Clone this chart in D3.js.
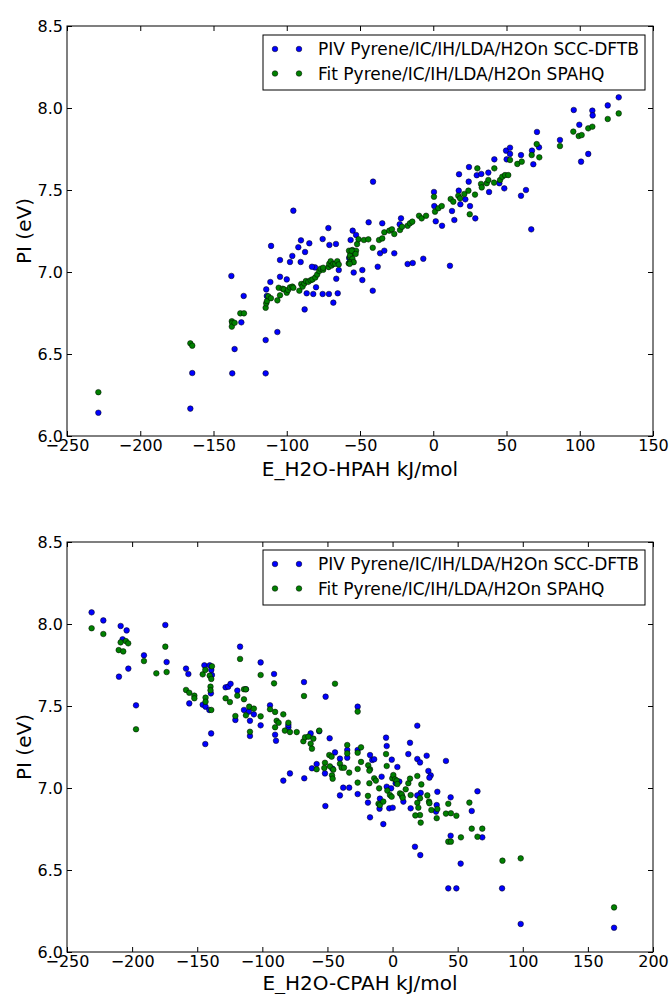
<!DOCTYPE html>
<html>
<head>
<meta charset="utf-8">
<script src="https://cdn.jsdelivr.net/npm/d3@7"></script>
<style>
  html, body { margin: 0; padding: 0; background: #fff; }
  svg { display: block; }
  text { font-family: "DejaVu Sans", sans-serif; }
</style>
</head>
<body>
<svg id="chart" width="670" height="994"></svg>
<script>
// ---------------- DATA ----------------
const seriesLabels = ["PIV Pyrene/IC/IH/LDA/H2On SCC-DFTB", "Fit Pyrene/IC/IH/LDA/H2On SPAHQ"];
const seriesColors = ["#0000ff", "#008000"];
const yTicks = [6.0, 6.5, 7.0, 7.5, 8.0, 8.5];
const xTicksTop = [-250, -200, -150, -100, -50, 0, 50, 100, 150];
const xTicksBot = [-250, -200, -150, -100, -50, 0, 50, 100, 150, 200];
const xLabelTop = "E_H2O-HPAH kJ/mol";
const xLabelBot = "E_H2O-CPAH kJ/mol";
const yLabel = "PI (eV)";

// Top panel: [E_H2O-HPAH, PI]
const topPIV = [
[-228.6,6.142],[-165.8,6.167],[-164.5,6.384],[-137.2,6.382],[-137.8,6.976],[-135.6,6.53],[-131.0,6.693],[-129.4,6.854],
[-114.4,6.382],[-114.4,6.585],[-106.4,6.634],[-114.0,6.894],[-113.6,6.854],[-111.2,6.939],[-110.7,7.159],[-104.6,7.073],
[-104.6,6.971],[-100.0,6.955],[-97.8,7.061],[-96.2,7.098],[-95.5,7.374],[-92.1,7.151],[-90.3,7.193],[-90.5,7.061],
[-87.5,7.122],[-84.6,7.175],[-86.4,6.87],[-87.8,6.772],[-81.9,6.866],[-80.0,6.907],[-75.5,7.201],[-71.6,7.268],
[-70.9,7.165],[-66.4,7.171],[-75.5,6.866],[-71.2,6.866],[-68.2,6.813],[-65.2,6.870],[-66.2,6.959],[-64.5,7.012],
[-80.7,7.028],[-82.8,7.032],[-56.4,7.195],[-55.0,7.252],[-52.7,7.226],[-54.3,6.997],[-57.4,7.085],[-48.4,7.012],
[-48.4,6.951],[-41.3,6.886],[-41.1,7.551],[-37.9,7.032],[-44.1,7.303],[-34.8,7.297],[-36.3,7.114],[-33.4,7.130],
[-26.6,7.114],[-22.9,7.291],[-22.0,7.327],[-17.5,7.049],[-14.0,7.055],[-6.8,7.081],[0.5,7.488],[0.7,7.402],
[1.7,7.309],[6.0,7.282],[11.4,7.038],[12.8,7.372],[14.4,7.317],[17.6,7.596],[17.4,7.496],[18.5,7.413],
[21.9,7.443],[25.1,7.402],[28.7,7.327],[24.4,7.640],[24.2,7.551],[29.7,7.59],[32.8,7.598],[37.6,7.606],
[38.1,7.488],[41.7,7.687],[45.1,7.541],[48.5,7.510],[49.7,7.740],[52.4,7.758],[52.4,7.720],[50.1,7.687],
[59.9,7.713],[59.9,7.465],[63.3,7.5],[66.9,7.26],[68.3,7.657],[67.4,7.74],[70.8,7.854],[72.2,7.76],
[86.5,7.805],[95.9,7.988],[99.7,7.898],[100.9,7.673],[105.8,7.72],[108.6,7.984],[108.8,7.955],[119.1,8.016],[126.6,8.065]
];
const topFit = [
[-228.6,6.267],[-165.8,6.565],[-164.5,6.551],[-137.5,6.70],[-137.2,6.69],[-137.5,6.667],[-135.6,6.69],[-131.7,6.748],
[-129.2,6.748],[-114.4,6.782],[-114.0,6.809],[-113.5,6.823],[-112.6,6.852],[-110.8,6.84],[-106.4,6.827],[-105.5,6.904],
[-104.6,6.858],[-102.8,6.898],[-101.9,6.894],[-100.0,6.874],[-99.1,6.890],[-97.8,6.906],[-96.2,6.911],[-95.5,6.904],
[-91.4,6.886],[-90.1,6.927],[-89.2,6.911],[-88.0,6.93],[-86.9,6.945],[-85.3,6.94],[-83.7,6.95],[-82.4,6.955],
[-80.5,6.967],[-79.2,6.985],[-77.8,7.006],[-76.9,7.02],[-75.1,7.014],[-75.1,7.026],[-71.4,7.03],[-71.0,7.05],
[-70.0,7.066],[-69.4,7.04],[-68.2,7.05],[-66.9,7.05],[-65.5,7.066],[-64.5,7.046],[-57.7,7.053],[-56.4,7.114],
[-55.2,7.134],[-54.1,7.114],[-52.7,7.13],[-56.9,7.09],[-57.5,7.13],[-56.8,7.10],[-55.7,7.13],[-53.0,7.11],
[-55.2,7.08],[-56.8,7.06],[-54.3,7.06],[-57.0,7.05],[-52.0,7.17],[-51.0,7.20],
[-47.3,7.195],[-44.3,7.199],[-41.3,7.148],[-37.0,7.195],[-34.8,7.205],[-33.4,7.242],[-30.0,7.252],[-28.2,7.26],
[-26.6,7.232],[-22.7,7.256],[-21.3,7.276],[-17.5,7.282],[-15.9,7.297],[-14.3,7.307],[-9.7,7.343],[-7.9,7.327],
[-4.9,7.343],[0.5,7.459],[1.2,7.368],[3.5,7.389],[5.8,7.402],[11.9,7.445],[13.7,7.429],[17.1,7.465],
[18.3,7.449],[21.2,7.476],[24.0,7.496],[24.9,7.352],[28.5,7.472],[30.1,7.632],[32.6,7.537],[33.1,7.516],
[36.5,7.541],[37.6,7.561],[41.7,7.632],[41.5,7.545],[45.6,7.561],[47.1,7.581],[49.0,7.591],[51.2,7.591],
[52.4,7.683],[57.4,7.659],[60.4,7.673],[67.2,7.713],[70.6,7.78],[72.4,7.699],[86.5,7.768],[95.6,7.856],
[99.3,7.829],[101.3,7.835],[105.8,7.876],[108.6,7.886],[119.1,7.933],[126.6,7.967]
];

// Bottom panel: [E_H2O-CPAH, PI]
const botPIV = [
[-231.1,8.071],[-222.1,8.022],[-208.8,7.988],[-204.2,7.961],[-207.3,7.907],[-210.1,7.679],[-202.9,7.728],[-197.0,7.504],
[-190.9,7.809],[-174.5,7.994],[-173.5,7.768],[-158.6,7.728],[-156.8,7.695],[-156.1,7.516],[-145.8,7.508],[-144.5,7.748],
[-143.8,7.268],[-143.6,7.496],[-140.7,7.476],[-140.4,7.748],[-139.2,7.72],[-138.7,7.689],[-139.5,7.577],[-139.3,7.333],
[-128.2,7.614],[-126.2,7.618],[-124.4,7.635],[-120.7,7.415],[-119.2,7.594],[-117.1,7.862],[-114.1,7.476],[-112.6,7.602],
[-110.3,7.466],[-109.5,7.317],[-109.5,7.41],[-106.5,7.449],[-101.3,7.766],[-101.3,7.382],[-94.1,7.504],[-91.0,7.695],
[-90.2,7.325],[-89.5,7.288],[-83.9,7.045],[-80.0,7.37],[-80.0,7.384],[-78.8,7.089],[-68.0,7.646],[-67.8,7.059],
[-62.9,7.333],[-61.9,7.120],[-58.3,7.146],[-56.3,7.346],[-51.4,7.557],[-51.9,7.089],[-51.6,6.890],[-48.3,7.303],
[-44.2,7.217],[-46.2,7.118],[-40.4,7.179],[-40.4,6.955],[-37.9,7.002],[-34.8,7.185],[-34.8,7.232],[-33.3,7.002],
[-26.8,7.496],[-26.8,7.232],[-26.8,6.963],[-17.3,7.201],[-17.3,6.821],[-18.9,6.911],[-15.6,7.171],[-14.1,7.175],
[-8.4,7.069],[-10.0,6.874],[-9.7,6.935],[-7.1,6.78],[-5.0,7.307],[-4.5,7.256],[-4.5,7.008],[-2.5,6.876],
[0.1,6.88],[-0.6,7.173],[-1.1,6.998],[3.7,7.128],[2.4,7.029],[5.2,7.039],[8.3,6.917],[7.5,6.947],
[12.1,7.207],[13.4,7.276],[13.9,6.876],[17.2,6.642],[19.0,7.38],[19.0,7.177],[21.1,7.156],[21.3,6.591],
[21.6,6.97],[19.0,6.955],[26.2,7.197],[27.5,7.104],[29.3,7.077],[28.3,7.063],[34.4,6.977],[33.9,6.896],
[33.4,6.856],[41.0,7.165],[44.6,6.943],[44.6,6.709],[42.8,6.388],[49.0,6.388],[52.3,6.539],[60.8,6.86],
[65.2,6.980],[68.9,6.699],[84.1,6.388],[98.4,6.171],[170.1,6.148]
];
const botFit = [
[-231.1,7.974],[-222.1,7.939],[-210.3,7.841],[-208.8,7.888],[-206.8,7.833],[-204.8,7.896],[-203.0,7.882],[-197.0,7.358],
[-190.9,7.774],[-181.4,7.699],[-174.5,7.862],[-173.5,7.707],[-158.6,7.598],[-156.1,7.581],[-152.2,7.563],[-152.2,7.547],
[-145.8,7.693],[-143.8,7.72],[-143.6,7.551],[-143.6,7.526],[-140.4,7.685],[-139.2,7.665],[-138.7,7.742],[-139.8,7.618],
[-139.8,7.596],[-139.2,7.476],[-128.2,7.547],[-124.9,7.524],[-120.7,7.439],[-119.2,7.563],[-117.1,7.787],[-114.1,7.602],
[-112.6,7.602],[-114.1,7.541],[-112.6,7.443],[-110.1,7.496],[-109.5,7.343],[-106.5,7.484],[-101.3,7.437],[-101.3,7.689],
[-94.1,7.48],[-91.0,7.638],[-90.2,7.464],[-90.2,7.370],[-89.0,7.41],[-87.5,7.398],[-83.9,7.449],[-82.7,7.35],
[-80.0,7.398],[-78.8,7.341],[-73.6,7.341],[-68.0,7.561],[-68.5,7.285],[-67.2,7.309],[-64.6,7.313],[-62.9,7.270],
[-61.9,7.24],[-60.8,7.301],[-58.3,7.114],[-56.3,7.35],[-51.9,7.154],[-52.4,7.122],[-48.6,7.201],[-46.8,7.191],
[-48.1,7.132],[-46.5,7.077],[-46.0,7.057],[-45.5,7.112],[-44.2,7.636],[-40.4,7.148],[-39.1,7.124],[-37.3,7.124],
[-34.8,7.262],[-34.8,7.211],[-33.3,7.094],[-26.8,7.466],[-26.8,7.215],[-26.8,7.116],[-26.8,7.033],[-24.2,7.248],
[-24.2,7.159],[-18.7,7.138],[-17.3,7.114],[-17.8,7.106],[-17.8,7.029],[-18.9,6.952],[-14.1,7.059],[-12.8,7.045],
[-10.3,6.998],[-10.8,6.904],[-9.7,6.896],[-7.1,6.917],[-5.0,7.207],[-4.5,7.134],[-4.0,6.984],[-2.0,6.957],
[-0.7,6.947],[-0.2,7.059],[0.6,7.079],[1.9,7.053],[3.2,7.045],[3.7,7.024],[5.7,6.967],[7.0,6.961],
[7.8,6.941],[10.1,6.992],[13.9,6.957],[12.1,7.029],[13.4,7.057],[19.0,7.073],[19.0,6.91],[19.8,6.88],
[21.1,6.937],[21.1,6.835],[17.5,6.833],[21.6,6.789],[22.1,7.022],[26.7,6.955],[28.0,6.917],[28.3,6.907],
[29.8,6.866],[33.9,6.816],[34.4,6.872],[41.0,6.844],[42.8,6.904],[44.8,6.846],[49.0,6.831],[42.8,6.673],
[44.8,6.673],[52.5,6.699],[59.0,6.911],[60.8,6.752],[65.2,6.703],[68.9,6.752],[84.4,6.557],[98.4,6.571],[170.1,6.272]
];

// ---------------- DRAW ----------------
const svg = d3.select("#chart");
const fmtY = d3.format(".1f");
const fmtX = d3.format("d");

function panel(cfg) {
  const { left, right, top, bottom, xDomain, xTicks, series, xLabel, xLabelOffset, legendTop } = cfg;
  const x = d3.scaleLinear().domain(xDomain).range([left, right]);
  const y = d3.scaleLinear().domain([6.0, 8.5]).range([bottom, top]);
  const g = svg.append("g");
  const tick = 5;

  const axB = g.append("g").attr("transform", `translate(0,${bottom})`)
    .call(d3.axisBottom(x).tickValues(xTicks).tickFormat(fmtX).tickSizeInner(-tick).tickSizeOuter(0).tickPadding(4));
  const axT = g.append("g").attr("transform", `translate(0,${top})`)
    .call(d3.axisTop(x).tickValues(xTicks).tickFormat("").tickSizeInner(-tick).tickSizeOuter(0));
  const axL = g.append("g").attr("transform", `translate(${left},0)`)
    .call(d3.axisLeft(y).tickValues(yTicks).tickFormat(fmtY).tickSizeInner(-tick).tickSizeOuter(0).tickPadding(4));
  const axR = g.append("g").attr("transform", `translate(${right},0)`)
    .call(d3.axisRight(y).tickValues(yTicks).tickFormat("").tickSizeInner(-tick).tickSizeOuter(0));
  [axB, axT, axL, axR].forEach(a => {
    a.select(".domain").remove();
    a.selectAll("line").attr("stroke", "#000").attr("stroke-width", 1);
    a.selectAll("text").attr("fill", "#000").style("font-size", "16px").style("font-family", "DejaVu Sans");
  });

  g.append("rect").attr("x", left).attr("y", top).attr("width", right - left).attr("height", bottom - top)
    .attr("fill", "none").attr("stroke", "#000").attr("stroke-width", 1);

  series.forEach((s, i) => {
    g.append("g").selectAll("circle").data(s).join("circle")
      .attr("cx", d => x(d[0])).attr("cy", d => y(d[1])).attr("r", 2.8)
      .attr("fill", seriesColors[i]).attr("stroke", "#000").attr("stroke-width", 0.5);
  });

  // axis labels
  g.append("text").attr("x", (left + right) / 2).attr("y", bottom + xLabelOffset)
    .attr("text-anchor", "middle").style("font-size", "20px").text(xLabel);
  g.append("text").attr("transform", `translate(31,${(top + bottom) / 2}) rotate(-90)`)
    .attr("text-anchor", "middle").style("font-size", "20px").text(yLabel);

  // legend
  const lx0 = 263, lx1 = 645, ly0 = legendTop, lh = 55;
  const lg = g.append("g");
  lg.append("rect").attr("x", lx0).attr("y", ly0).attr("width", lx1 - lx0).attr("height", lh)
    .attr("fill", "#fff").attr("stroke", "#000").attr("stroke-width", 1);
  seriesLabels.forEach((lab, i) => {
    const cy = ly0 + 14 + i * 24.5;
    [275, 299].forEach(cx => lg.append("circle").attr("cx", cx).attr("cy", cy).attr("r", 2.8)
      .attr("fill", seriesColors[i]).attr("stroke", "#000").attr("stroke-width", 0.5));
    lg.append("text").attr("x", 318).attr("y", cy).attr("dy", "0.36em")
      .style("font-size", "17px").text(lab);
  });
}

panel({ left: 67, right: 653, top: 26, bottom: 436, xDomain: [-250, 150], xTicks: xTicksTop,
        series: [topPIV, topFit], xLabel: xLabelTop, xLabelOffset: 40, legendTop: 35 });
panel({ left: 67, right: 653, top: 542, bottom: 952, xDomain: [-250, 200], xTicks: xTicksBot,
        series: [botPIV, botFit], xLabel: xLabelBot, xLabelOffset: 38, legendTop: 550 });
</script>
</body>
</html>
